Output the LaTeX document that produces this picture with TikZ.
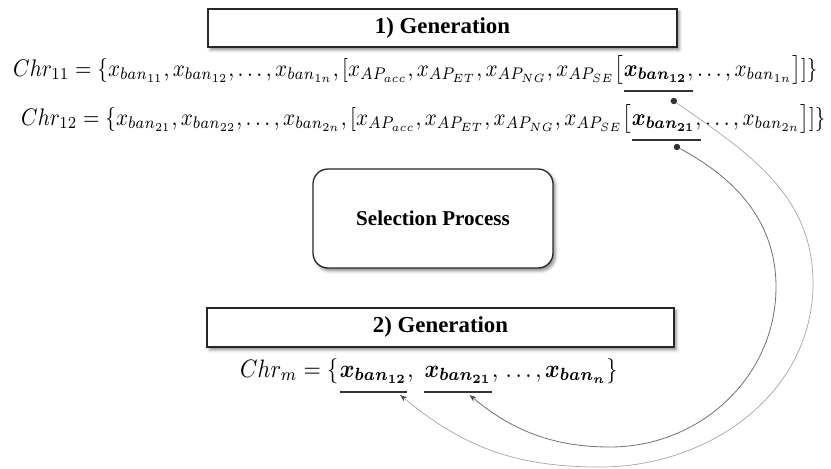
\documentclass[tikz,border=0pt]{standalone}
\usepackage{amsmath,bm}
\usepackage[no-math]{fontspec}
\setmainfont{Liberation Serif}
\usetikzlibrary{arrows.meta,shadows.blur,calc}
\newcommand{\myeq}[1]{\scalebox{1.80}[2.05]{$#1$}}
\newcommand{\myeqb}[1]{\scalebox{1.90}[2.15]{$#1$}}
\begin{document}
\begin{tikzpicture}[x=0.03cm,y=-0.03cm,
  boxshadow/.style={blur shadow={shadow xshift=2pt,shadow yshift=-2.5pt,shadow blur radius=2.5pt,shadow opacity=45}},
  titlebox/.style={draw=black!85,line width=1.1pt,fill=white,boxshadow,
    font=\bfseries\fontsize{19.5}{22}\selectfont,inner sep=0pt},
  selbox/.style={draw=black!85,line width=1.1pt,fill=white,boxshadow,rounded corners=0.45cm,
    font=\bfseries\fontsize{18}{21}\selectfont,inner sep=0pt,
    minimum width=7.2cm,minimum height=2.97cm},
  eqpart/.style={inner sep=0pt,anchor=base west},
  uline/.style={draw=black!80,line width=1.6pt},
  dotnode/.style={circle,fill=black!80,inner sep=0pt,minimum size=5.5pt},
  linkouter/.style={draw=black!35,line width=0.6pt,-{Stealth[length=6pt,width=4.5pt,color=black!70]}},
  linkinner/.style={draw=black!55,line width=0.7pt,-{Stealth[length=6pt,width=4.5pt,color=black!70]}}
]
\useasboundingbox (0,0) rectangle (831,468);

% boxes
\node[titlebox,minimum width=14.07cm,minimum height=1.14cm] (g1) at (442.5,28) {1) Generation};
\node[selbox] (sel) at (433,218.5) {Selection Process};
\node[titlebox,minimum width=14.01cm,minimum height=1.17cm] (g2) at (440.5,327.5) {2) Generation};

% line 1
\node[eqpart] (e1a) at (13,76) {\myeq{Chr_{11}=\{x_{ban_{11}},x_{ban_{12}},\ldots,x_{ban_{1n}},[x_{AP_{acc}},x_{AP_{ET}},x_{AP_{NG}},x_{AP_{SE}}\bigl[}};
\node[eqpart] (e1b) at (e1a.base east) {\myeq{\bm{x_{ban_{12}}},}};
\node[eqpart] (e1c) at ([xshift=3pt]e1b.base east) {\myeq{\ldots,x_{ban_{1n}}\bigr]]\}}};

% line 2
\node[eqpart] (e2a) at (21,125) {\myeq{Chr_{12}=\{x_{ban_{21}},x_{ban_{22}},\ldots,x_{ban_{2n}},[x_{AP_{acc}},x_{AP_{ET}},x_{AP_{NG}},x_{AP_{SE}}\bigl[}};
\node[eqpart] (e2b) at (e2a.base east) {\myeq{\bm{x_{ban_{21}}},}};
\node[eqpart] (e2c) at ([xshift=3pt]e2b.base east) {\myeq{\ldots,x_{ban_{2n}}\bigr]]\}}};

% result line
\node[eqpart] (m1) at (240,377) {\myeqb{Chr_m=\{}};
\node[eqpart] (m2) at ([xshift=1pt]m1.base east) {\myeqb{\bm{x_{ban_{12}}}}};
\node[eqpart] (m2c) at (m2.base east) {\myeqb{,}};
\node[eqpart] (m3) at ([xshift=9pt]m2c.base east) {\myeqb{\bm{x_{ban_{21}}}}};
\node[eqpart] (m4) at (m3.base east) {\myeqb{,\,\ldots,\bm{x_{ban_n}}\}}};

% underlines
\draw[uline] ([yshift=-12.8pt]e1b.base west) -- ([yshift=-12.8pt]e1b.base east);
\draw[uline] ([yshift=-12.8pt]e2b.base west) -- ([yshift=-12.8pt]e2b.base east);
\draw[uline] ([yshift=-12.8pt]m2.base west) -- ([yshift=-12.8pt]m2.base east);
\draw[uline] ([yshift=-12.8pt]m3.base west) -- ([yshift=-12.8pt]m3.base east);

% dots and targets
\node[dotnode] (d1) at ($(e1b.base west)!0.72!(e1b.base east)+(0,25)$) {};
\node[dotnode] (d2) at ($(e2b.base west)!0.65!(e2b.base east)+(0,22)$) {};
\coordinate (t1) at ($(m2.base east)+(-7,18)$);
\coordinate (t2) at ($(m3.base west)!0.67!(m3.base east)+(0,18)$);
\coordinate (o1) at (813,283);
\coordinate (o2) at (600,467);
\coordinate (i1) at (776,287);
\coordinate (i2) at (610,447);

% connectors
\draw[linkouter] (d1) .. controls ($(d1)+(73,51)$) and ($(o1)+(0,-89)$) .. (o1)
  .. controls ($(o1)+(0,110)$) and ($(o2)+(110,0)$) .. (o2)
  .. controls ($(o2)+(-83,0)$) and ($(t1)+(64,53)$) .. (t1);
\draw[linkinner] (d2) .. controls ($(d2)+(58,31)$) and ($(i1)+(0,-66)$) .. (i1)
  .. controls ($(i1)+(0,90)$) and ($(i2)+(90,0)$) .. (i2)
  .. controls ($(i2)+(-56,0)$) and ($(t2)+(43,36)$) .. (t2);
\end{tikzpicture}
\end{document}
